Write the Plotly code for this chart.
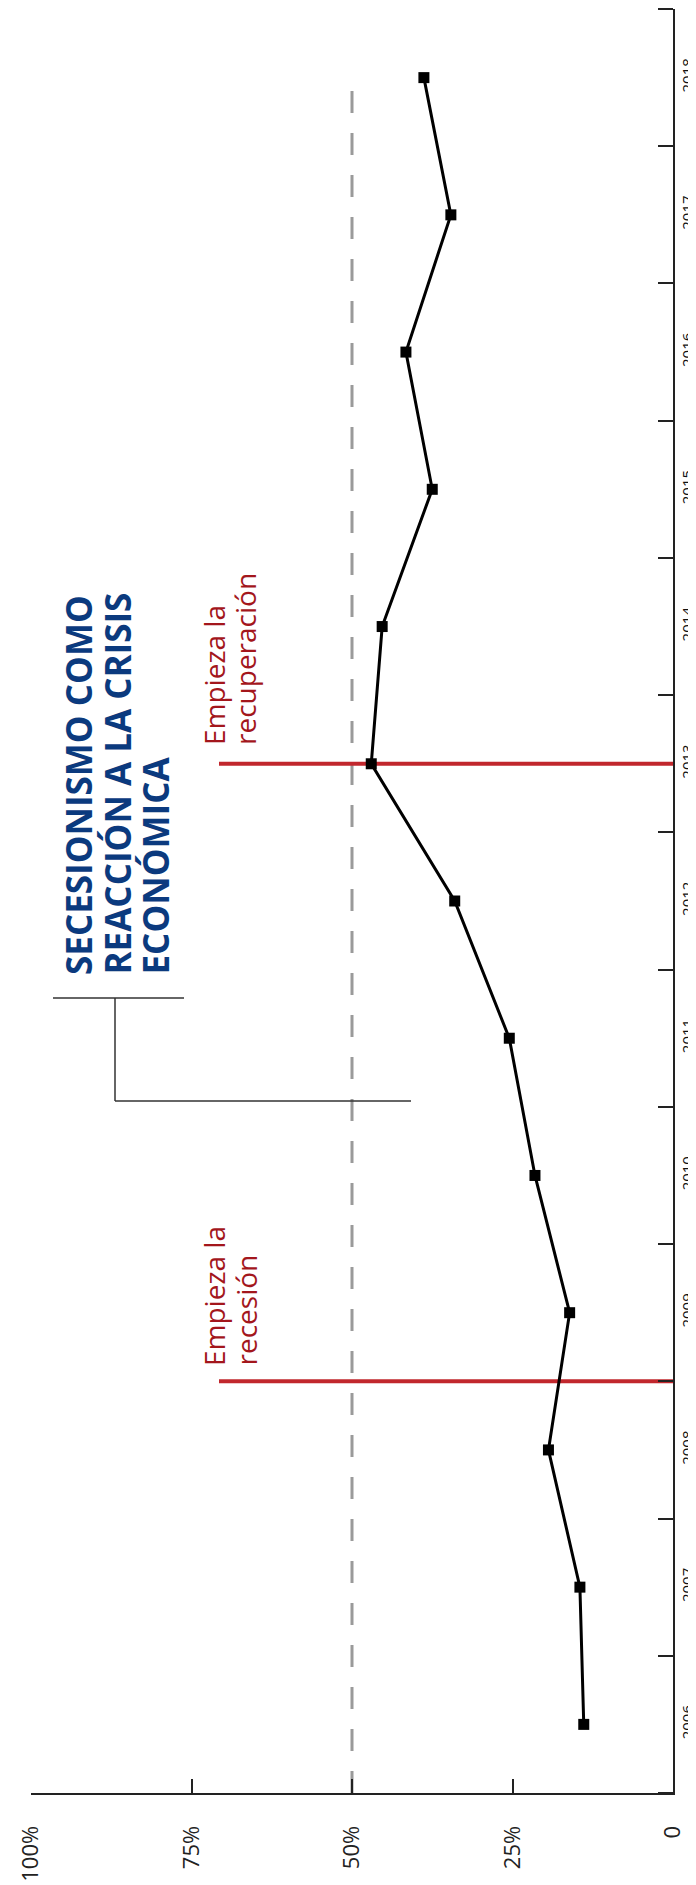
import plotly.graph_objects as go

# ---------------- data ----------------
years = [2006, 2007, 2008, 2009, 2010, 2011, 2012, 2013, 2014, 2015, 2016, 2017, 2018]
support = [13.9, 14.5, 19.4, 16.1, 21.5, 25.5, 34.0, 47.0, 45.3, 37.5, 41.6, 34.6, 38.8]
pct_ticks = [0, 25, 50, 75, 100]
pct_labels = ["0", "25%", "50%", "75%", "100%"]
reference_level = 50
event_years = [2008.5, 2013]
event_line1 = ["Empieza la", "Empieza la"]
event_line2 = ["recesión", "recuperación"]
title_lines = ["SECESIONISMO COMO", "REACCIÓN A LA CRISIS", "ECONÓMICA"]

# ---------------- layout geometry ----------------
W, H = 696, 1885
ML, MR, MT, MB = 23, 31, 1, 100
PW, PH = W - ML - MR, H - MT - MB
X_MAX = 100
Y_LO, Y_HI = years[0] - 0.5, years[-1] + 0.5


def px_x(px):
    """pixel column -> value on the reversed percent axis"""
    return X_MAX * (W - MR - px) / PW


def px_y(py):
    """pixel row -> value on the year axis"""
    return Y_HI - (py - MT) * (Y_HI - Y_LO) / PH


FONT = "Open Sans"
AXIS_COLOR = "#222222"
RED_LINE = "#C1272D"
RED_TEXT = "#A3161C"
NAVY = "#0B3A7E"

fig = go.Figure()

fig.add_trace(go.Scatter(
    x=support, y=years, mode="lines+markers",
    line=dict(color="black", width=3),
    marker=dict(symbol="square", size=11, color="black"),
    showlegend=False, hoverinfo="skip",
))

shapes = []
# dashed 50% reference line
shapes.append(dict(type="line", xref="x", yref="y",
                   x0=reference_level, x1=reference_level, y0=Y_LO, y1=years[-1],
                   line=dict(color="#9A9A9A", width=3, dash="22px,20px"), layer="below"))
# red event lines
for ey in event_years:
    shapes.append(dict(type="line", xref="x", yref="y",
                       x0=px_x(211), x1=0, y0=ey, y1=ey,
                       line=dict(color=RED_LINE, width=4), layer="below"))
# bracket connector under the title
br = dict(color="#333333", width=1.5)
shapes.append(dict(type="line", xref="x", yref="y", x0=px_x(45), x1=px_x(176),
                   y0=px_y(990), y1=px_y(990), line=br))
shapes.append(dict(type="line", xref="x", yref="y", x0=px_x(107), x1=px_x(107),
                   y0=px_y(990), y1=px_y(1093), line=br))
shapes.append(dict(type="line", xref="x", yref="y", x0=px_x(107), x1=px_x(403),
                   y0=px_y(1093), y1=px_y(1093), line=br))

annotations = []
# title (three rotated lines)
for txt, cx in zip(title_lines, [70, 108.5, 146.5]):
    annotations.append(dict(text=txt, xref="x", yref="y", x=px_x(cx), y=px_y(968),
                            xanchor="center", yanchor="bottom", textangle=-90,
                            showarrow=False, borderpad=0,
                            font=dict(family=FONT, size=35, color=NAVY, weight="bold")))
# event labels
for ey, l1, l2, start in zip(event_years, event_line1, event_line2, [1359, 738]):
    for txt, cx in [(l1, 206), (l2, 237)]:
        annotations.append(dict(text=txt, xref="x", yref="y", x=px_x(cx), y=px_y(start),
                                xanchor="center", yanchor="bottom", textangle=-90,
                                showarrow=False, borderpad=0,
                                font=dict(family=FONT, size=28, color=RED_TEXT)))

fig.update_layout(
    width=W, height=H,
    margin=dict(l=ML, r=MR, t=MT, b=MB, pad=0),
    paper_bgcolor="white", plot_bgcolor="white",
    font=dict(family=FONT, color=AXIS_COLOR),
    shapes=shapes, annotations=annotations,
    xaxis=dict(
        range=[X_MAX, 0], tickmode="array", tickvals=pct_ticks, ticktext=pct_labels,
        tickangle=-90, ticks="inside", ticklen=14, tickwidth=1.5, tickcolor=AXIS_COLOR,
        showline=True, linecolor=AXIS_COLOR, linewidth=2, showgrid=False, zeroline=False,
        tickfont=dict(family=FONT, size=22, color=AXIS_COLOR), ticklabelstandoff=22,
    ),
    yaxis=dict(
        range=[Y_LO, Y_HI], side="right", tickmode="array", tickvals=years,
        ticktext=[str(y) for y in years], ticks="", tickangle=-90,
        showline=True, linecolor=AXIS_COLOR, linewidth=2, showgrid=False, zeroline=False,
        tickfont=dict(family=FONT, size=15, color="#111111"), ticklabelstandoff=0,
        minor=dict(tickmode="array", tickvals=[y - 0.5 for y in years] + [years[-1] + 0.5],
                   ticks="inside", ticklen=15, tickwidth=1.5, tickcolor=AXIS_COLOR,
                   showgrid=False),
    ),
)

fig.write_html("out.html")
